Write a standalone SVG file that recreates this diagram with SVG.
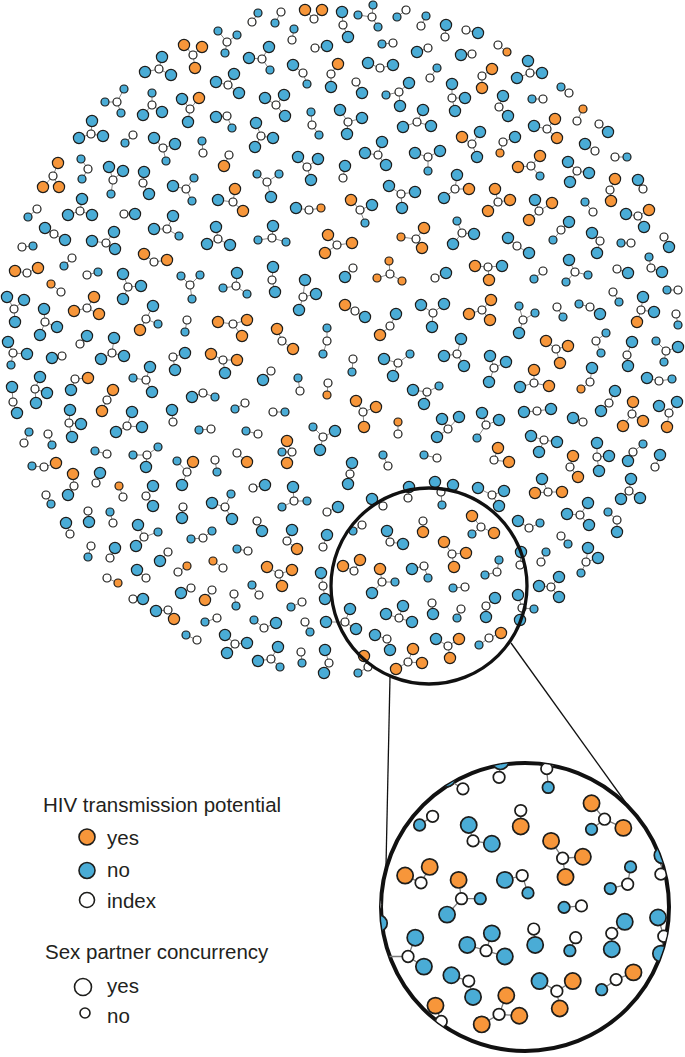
<svg xmlns="http://www.w3.org/2000/svg" xmlns:xlink="http://www.w3.org/1999/xlink" width="685" height="1057" viewBox="0 0 685 1057">
<style>
#nodes circle{stroke:#1d1d1b;stroke-width:1.2}
.w{fill:#fff;r:4px}
.B{fill:#4aacd6;r:5.6px}
.b{fill:#4aacd6;r:4px}
.O{fill:#f7963a;r:5.6px}
.o{fill:#f7963a;r:4px}
.e{stroke:#7a7a7a;stroke-width:0.9;fill:none}
.ring{fill:none;stroke:#111;}
.lt{font-family:"Liberation Sans",Arial,sans-serif;font-size:20.5px;fill:#231f20}
.lg{stroke:#1d1d1b;stroke-width:1.6}
.zl{stroke:#111;stroke-width:1.3}
</style>
<defs>
<clipPath id="bigclip"><circle cx="525" cy="907" r="144.5"/></clipPath>
</defs>
<rect width="685" height="1057" fill="#fff"/>
<g id="cloud">
<g id="connectors" class="e">
<path d="M314 19L305 10M314 19L322 10M252 22L258 13M281 12L275 23M227 42L218 31M227 42L237 35M227 42L225 53M292 40L294 29M315 48L327 46M193 55L184 45M193 55L202 47M193 55L195 68M159 69L162 57M159 69L145 72M159 69L171 75M262 59L269 47M262 59L249 58M262 59L270 70M303 73L293 65M303 73L307 84M331 74L338 64M331 74L331 87M228 85L234 74M228 85L216 82M228 85L239 93M117 102L124 89M117 102L105 102M117 102L121 113M152 105L152 93M152 105L143 115M152 105L162 112M190 109L182 99M190 109L199 98M190 109L188 122M276 105L265 98M276 105L284 95M276 105L285 116M312 125L311 112M312 125L319 135M227 116L216 117M227 116L232 128M261 136L256 123M261 136L255 147M261 136L273 138M91 134L92 121M91 134L79 138M91 134L103 136M133 135L125 143M163 148L154 138M163 148L175 144M163 148L166 161M203 153L202 141M229 155L224 166M307 167L298 157M307 167L318 159M307 167L311 180M53 176L58 163M53 176L43 187M53 176L59 187M88 169L81 159M88 169L82 179M113 180L109 167M113 180L123 171M113 180L111 194M143 183L144 172M143 183L149 194M186 189L173 186M186 189L194 178M186 189L192 201M267 182L257 174M267 182L279 174M267 182L271 197M233 202L235 189M233 202L218 200M233 202L243 211M309 210L296 208M309 210L321 208M37 209L28 217M80 211L82 199M80 211L68 215M80 211L92 215M124 214L135 214M167 229L173 216M167 229L154 229M167 229L179 236M218 239L216 227M218 239L207 244M218 239L230 245M272 238L273 226M272 238L258 240M272 238L286 242M54 234L45 228M54 234L65 240M106 243L92 241M106 243L114 232M106 243L115 249M22 247L33 246M337 245L328 235M337 245L352 243M337 245L325 253"/>
<path d="M343 25L342 12M343 25L348 37M372 17L373 5M372 17L358 15M372 17L378 27M406 10L397 17M421 26L426 16M445 37L446 25M466 30L478 33M393 43L382 44M428 48L417 52M472 54L461 55M498 45L507 52M380 68L368 63M380 68L393 65M430 78L437 68M482 76L492 69M482 76L482 88M530 73L528 61M530 73L517 78M530 73L542 73M569 93L561 87M356 82L362 93M399 92L386 95M399 92L409 83M399 92L400 106M452 98L452 84M452 98L465 98M452 98L455 111M499 107L503 96M499 107L508 116M543 99L532 99M577 121L583 109M348 122L340 110M348 122L362 118M348 122L347 134M417 122L423 110M417 122L403 127M417 122L431 126M547 129L555 119M547 129L534 126M547 129L557 138M599 124L608 132M472 144L462 137M472 144L480 132M472 144L477 157M503 142L515 137M503 142L500 153M378 155L382 142M378 155L365 153M378 155L386 165M428 157L415 153M428 157L440 151M428 157L428 171M595 151L585 144M615 157L627 157M531 166L540 156M531 166L518 167M531 166L540 176M577 171L568 162M577 171L589 173M577 171L570 182M343 178L345 166M455 189L457 175M455 189L469 189M455 189L444 198M610 190L615 179M610 190L611 201M643 189L638 180M401 194L389 186M401 194L415 192M401 194L402 208M498 202L495 189M498 202L510 200M498 202L488 211M539 211L535 200M539 211L552 203M539 211L529 220M360 210L351 200M360 210L372 205M360 210L365 223M593 212L585 202M638 216L626 214M638 216L649 210M638 216L644 227M462 233L457 221M462 233L474 234M462 233L453 244M416 239L401 237M416 239L424 228M416 239L422 248M517 246L508 238M517 246L529 253M561 230L569 222M561 230L553 240M600 241L592 233M600 241L597 253M631 243L621 243M664 237L669 247"/>
<path d="M27 273L15 271M27 273L38 268M72 258L64 266M87 275L98 272M154 262L144 254M154 262L167 260M128 287L123 274M128 287L141 286M128 287L123 299M190 285L181 276M190 285L200 275M190 285L192 299M61 292L51 284M236 286L237 273M236 286L223 288M236 286L247 294M14 309L7 297M14 309L24 300M14 309L15 322M87 308L94 297M87 308L74 311M87 308L99 314M45 322L44 309M45 322L57 327M45 322L40 335M146 319L153 306M146 319L140 330M146 319L158 324M187 320L185 332M233 324L218 322M233 324L247 320M233 324L242 336M13 353L8 342M13 353L27 354M13 353L11 365M80 344L87 336M112 353L114 338M112 353L101 359M112 353L124 356M62 356L52 358M173 357L185 353M173 357L175 370M223 360L211 354M223 360L237 360M223 360L225 373M35 389L40 377M35 389L47 393M35 389L36 403M75 379L88 378M75 379L71 390M146 380L150 367M146 380L133 378M146 380L152 392M13 402L12 387M13 402L17 413M107 400L113 390M107 400L102 411M203 393L192 397M203 393L215 397M69 423L70 410M69 423L81 424M69 423L72 437M127 426L132 412M127 426L142 427M127 426L116 432M173 422L172 410M245 403L235 409M24 443L29 432M48 434L52 445M211 429L199 430M107 454L95 451M147 455L133 455M147 455L158 447M147 455L146 467M237 453L247 462M44 467L32 466M44 467L56 463"/>
<path d="M272 280L273 267M272 280L275 292M303 297L305 280M303 297L316 294M303 297L299 310M353 268L345 277M390 274L389 261M390 274L377 278M390 274L402 281M435 278L446 273M355 311L345 305M355 311L365 317M433 313L421 305M433 313L444 304M433 313L432 327M390 326L396 314M390 326L380 335M282 341L277 329M282 341L293 349M327 341L327 328M327 341L323 354M398 363L384 359M398 363L410 354M398 363L393 376M353 359L352 372M271 371L263 380M300 391L298 378M328 383L327 395M427 392L413 390M427 392L439 386M427 392L424 404M363 412L356 401M363 412L376 407M363 412L364 427M273 412L285 412M398 434L398 422M448 429L442 419M448 429L459 417M448 429L437 437M258 434L246 431M323 437L313 427M323 437L335 431M323 437L320 450M292 452L287 441M292 452L282 452M292 452L287 463M388 466L383 455M437 458L424 455M350 474L352 463M350 474L348 484"/>
<path d="M488 267L475 266M488 267L502 266M488 267L489 280M543 271L534 279M575 272L569 260M575 272L588 275M575 272L566 282M617 269L628 273M651 268L649 257M651 268L662 272M482 310L491 300M482 310L469 314M482 310L490 320M523 320L519 306M523 320L535 313M523 320L519 333M557 307L563 317M590 307L579 304M590 307L600 314M613 292L619 302M641 310L643 297M641 310L654 312M641 310L637 322M678 290L667 290M676 314L678 325M457 354L444 356M457 354L461 339M457 354L464 366M556 349L546 341M556 349L568 346M556 349L560 363M596 341L606 333M596 341L601 353M627 355L632 342M627 355L628 366M666 351L656 341M666 351L678 347M666 351L664 362M494 368L490 356M494 368L506 362M494 368L489 382M534 383L534 370M534 383L520 387M534 383L549 386M590 382L592 368M590 382L581 389M659 381L647 378M659 381L672 379M609 403L615 391M609 403L601 411M632 414L633 402M632 414L623 426M632 414L643 421M669 413L659 406M669 413L677 402M669 413L667 427M486 425L482 413M486 425L499 420M486 425L477 438M537 411L524 412M537 411L551 409M583 422L573 418M544 440L531 436M544 440L557 442M544 440L539 452M494 460L498 448M494 460L509 462M597 457L597 443M597 457L609 456M597 457L599 471M633 452L628 461M633 452L643 444M655 467L660 455M570 467L573 456M570 467L578 477"/>
<path d="M74 486L73 474M74 486L68 495M46 495L51 504M96 483L100 473M123 497L119 486M146 496L153 486M146 496L153 506M187 472L177 461M187 472L193 462M187 472L182 485M215 460L217 472M183 507L182 518M225 507L212 503M225 507L231 494M225 507L232 519M70 534L66 523M88 511L89 522M113 523L110 512M144 537L138 525M144 537L136 546M144 537L158 532M203 538L191 539M203 538L212 531M91 546L88 557M110 558L115 548M168 552L160 561M178 572L187 566M223 568L213 561M146 578L137 570M107 578L118 583M191 588L181 593M212 590L205 600M133 599L143 599M168 610L156 611M168 610L174 619M217 618L205 622M197 640L186 635M235 644L225 635M235 644L247 643M235 644L227 653"/>
<path d="M253 488L265 485M294 501L293 487M294 501L307 501M294 501L282 507M257 521L262 531M287 541L292 530M287 541L297 549M327 512L338 507M248 551L237 549M279 574L267 567M279 574L292 570M279 574L282 586M259 595L252 585M234 594L236 606M302 602L291 607M264 628L254 620M264 628L276 623M305 622L310 632M271 659L278 647M271 659L258 661M271 659L280 667M301 652L302 663M329 663L325 650M329 663L324 673M323 586L321 573M323 586L325 599"/>
<path d="M441 492L435 482M441 492L453 485M441 492L442 505M408 498L409 487M383 506L372 499M492 495L478 488M492 495L504 491M492 495L499 506M362 525L353 531M390 542L387 531M390 542L403 544M423 521L423 532M481 527L472 516M481 527L472 534M481 527L494 533M452 554L444 542M452 554L466 553M452 554L454 567M354 571L343 566M354 571L360 560M382 582L380 569M382 582L395 582M382 582L372 593M424 566L412 569M424 566L428 578M497 572L499 560M497 572L485 575M520 565L521 552M465 587L453 588M486 606L495 598M486 606L486 617M522 608L518 595M522 608L534 609M522 608L520 620M345 622L350 609M345 622L356 629M345 622L326 622M399 618L403 606M399 618L386 614M399 618L412 622M432 603L433 614M461 609L457 618M387 639L375 635M387 639L390 650M448 646L436 639M448 646L459 639M448 646L450 658M489 638L479 645M489 638L501 633M368 667L364 656M368 667L358 673M408 662L413 649M408 662L396 669M408 662L422 663M323 547L327 535M529 528L518 521M529 528L540 523"/>
<path d="M548 492L535 493M548 492L562 492M548 492L542 479M629 491L631 479M629 491L621 499M629 491L640 498M580 515L588 503M580 515L567 514M580 515L589 525M617 520L608 512M617 520L617 532M561 536L568 544M541 562L546 552M586 562L588 548M586 562L598 558M586 562L581 573M551 587L559 577M551 587L539 586M551 587L559 597"/>
</g>
<g id="nodes">
<g id="a1"><circle class="O" cx="305" cy="10"/><circle class="O" cx="322" cy="10"/><circle class="w" cx="314" cy="19"/></g>
<g id="a3"><circle class="b" cx="258" cy="13"/><circle class="w" cx="252" cy="22"/></g>
<g id="a4"><circle class="b" cx="275" cy="23"/><circle class="w" cx="281" cy="12"/></g>
<g id="a5"><circle class="b" cx="218" cy="31"/><circle class="b" cx="237" cy="35"/><circle class="b" cx="225" cy="53"/><circle class="w" cx="227" cy="42"/></g>
<g id="a6"><circle class="b" cx="294" cy="29"/><circle class="w" cx="292" cy="40"/></g>
<g id="a7"><circle class="B" cx="327" cy="46"/><circle class="w" cx="315" cy="48"/></g>
<g id="a8"><circle class="O" cx="184" cy="45"/><circle class="O" cx="202" cy="47"/><circle class="O" cx="195" cy="68"/><circle class="w" cx="193" cy="55"/></g>
<g id="a9"><circle class="B" cx="162" cy="57"/><circle class="B" cx="145" cy="72"/><circle class="B" cx="171" cy="75"/><circle class="w" cx="159" cy="69"/></g>
<g id="a10"><circle class="B" cx="269" cy="47"/><circle class="B" cx="249" cy="58"/><circle class="b" cx="270" cy="70"/><circle class="w" cx="262" cy="59"/></g>
<g id="a11"><circle class="B" cx="293" cy="65"/><circle class="b" cx="307" cy="84"/><circle class="w" cx="303" cy="73"/></g>
<g id="a12"><circle class="O" cx="338" cy="64"/><circle class="B" cx="331" cy="87"/><circle class="w" cx="331" cy="74"/></g>
<g id="a13"><circle class="B" cx="234" cy="74"/><circle class="B" cx="216" cy="82"/><circle class="B" cx="239" cy="93"/><circle class="w" cx="228" cy="85"/></g>
<g id="a14"><circle class="b" cx="124" cy="89"/><circle class="b" cx="105" cy="102"/><circle class="b" cx="121" cy="113"/><circle class="w" cx="117" cy="102"/></g>
<g id="a15"><circle class="b" cx="152" cy="93"/><circle class="B" cx="143" cy="115"/><circle class="B" cx="162" cy="112"/><circle class="w" cx="152" cy="105"/></g>
<g id="a16"><circle class="B" cx="182" cy="99"/><circle class="O" cx="199" cy="98"/><circle class="B" cx="188" cy="122"/><circle class="w" cx="190" cy="109"/></g>
<g id="a17"><circle class="B" cx="265" cy="98"/><circle class="B" cx="284" cy="95"/><circle class="B" cx="285" cy="116"/><circle class="w" cx="276" cy="105"/></g>
<g id="a18"><circle class="b" cx="311" cy="112"/><circle class="b" cx="319" cy="135"/><circle class="w" cx="312" cy="125"/></g>
<g id="a20"><circle class="B" cx="216" cy="117"/><circle class="b" cx="232" cy="128"/><circle class="w" cx="227" cy="116"/></g>
<g id="a21"><circle class="B" cx="256" cy="123"/><circle class="B" cx="255" cy="147"/><circle class="B" cx="273" cy="138"/><circle class="w" cx="261" cy="136"/></g>
<g id="a22"><circle class="B" cx="92" cy="121"/><circle class="B" cx="79" cy="138"/><circle class="B" cx="103" cy="136"/><circle class="w" cx="91" cy="134"/></g>
<g id="a23"><circle class="b" cx="125" cy="143"/><circle class="w" cx="133" cy="135"/></g>
<g id="a24"><circle class="B" cx="154" cy="138"/><circle class="B" cx="175" cy="144"/><circle class="b" cx="166" cy="161"/><circle class="w" cx="163" cy="148"/></g>
<g id="a25"><circle class="b" cx="202" cy="141"/><circle class="w" cx="203" cy="153"/></g>
<g id="a26"><circle class="O" cx="224" cy="166"/><circle class="w" cx="229" cy="155"/></g>
<g id="a27"><circle class="B" cx="298" cy="157"/><circle class="B" cx="318" cy="159"/><circle class="B" cx="311" cy="180"/><circle class="w" cx="307" cy="167"/></g>
<g id="a29"><circle class="O" cx="58" cy="163"/><circle class="O" cx="43" cy="187"/><circle class="O" cx="59" cy="187"/><circle class="w" cx="53" cy="176"/></g>
<g id="a30"><circle class="b" cx="81" cy="159"/><circle class="b" cx="82" cy="179"/><circle class="w" cx="88" cy="169"/></g>
<g id="a31"><circle class="B" cx="109" cy="167"/><circle class="B" cx="123" cy="171"/><circle class="b" cx="111" cy="194"/><circle class="w" cx="113" cy="180"/></g>
<g id="a32"><circle class="B" cx="144" cy="172"/><circle class="B" cx="149" cy="194"/><circle class="w" cx="143" cy="183"/></g>
<g id="a33"><circle class="B" cx="173" cy="186"/><circle class="b" cx="194" cy="178"/><circle class="b" cx="192" cy="201"/><circle class="w" cx="186" cy="189"/></g>
<g id="a34"><circle class="b" cx="257" cy="174"/><circle class="b" cx="279" cy="174"/><circle class="B" cx="271" cy="197"/><circle class="w" cx="267" cy="182"/></g>
<g id="a35"><circle class="O" cx="235" cy="189"/><circle class="B" cx="218" cy="200"/><circle class="O" cx="243" cy="211"/><circle class="w" cx="233" cy="202"/></g>
<g id="a36"><circle class="B" cx="296" cy="208"/><circle class="o" cx="321" cy="208"/><circle class="w" cx="309" cy="210"/></g>
<g id="a38"><circle class="b" cx="28" cy="217"/><circle class="w" cx="37" cy="209"/></g>
<g id="a39"><circle class="B" cx="82" cy="199"/><circle class="B" cx="68" cy="215"/><circle class="B" cx="92" cy="215"/><circle class="w" cx="80" cy="211"/></g>
<g id="a40"><circle class="B" cx="135" cy="214"/><circle class="w" cx="124" cy="214"/></g>
<g id="a41"><circle class="B" cx="173" cy="216"/><circle class="B" cx="154" cy="229"/><circle class="b" cx="179" cy="236"/><circle class="w" cx="167" cy="229"/></g>
<g id="a42"><circle class="B" cx="216" cy="227"/><circle class="B" cx="207" cy="244"/><circle class="B" cx="230" cy="245"/><circle class="w" cx="218" cy="239"/></g>
<g id="a43"><circle class="B" cx="273" cy="226"/><circle class="b" cx="258" cy="240"/><circle class="b" cx="286" cy="242"/><circle class="w" cx="272" cy="238"/></g>
<g id="a44"><circle class="B" cx="45" cy="228"/><circle class="B" cx="65" cy="240"/><circle class="w" cx="54" cy="234"/></g>
<g id="a45"><circle class="B" cx="92" cy="241"/><circle class="B" cx="114" cy="232"/><circle class="B" cx="115" cy="249"/><circle class="w" cx="106" cy="243"/></g>
<g id="a46"><circle class="b" cx="33" cy="246"/><circle class="w" cx="22" cy="247"/></g>
<g id="a47"><circle class="O" cx="328" cy="235"/><circle class="O" cx="352" cy="243"/><circle class="O" cx="325" cy="253"/><circle class="w" cx="337" cy="245"/></g>
<g id="b1"><circle class="B" cx="342" cy="12"/><circle class="B" cx="348" cy="37"/><circle class="w" cx="343" cy="25"/></g>
<g id="b2"><circle class="b" cx="373" cy="5"/><circle class="b" cx="358" cy="15"/><circle class="b" cx="378" cy="27"/><circle class="w" cx="372" cy="17"/></g>
<g id="b3"><circle class="b" cx="397" cy="17"/><circle class="w" cx="406" cy="10"/></g>
<g id="b4"><circle class="b" cx="426" cy="16"/><circle class="w" cx="421" cy="26"/></g>
<g id="b5"><circle class="B" cx="446" cy="25"/><circle class="w" cx="445" cy="37"/></g>
<g id="b6"><circle class="B" cx="478" cy="33"/><circle class="w" cx="466" cy="30"/></g>
<g id="b7"><circle class="b" cx="382" cy="44"/><circle class="w" cx="393" cy="43"/></g>
<g id="b8"><circle class="B" cx="417" cy="52"/><circle class="w" cx="428" cy="48"/></g>
<g id="b9"><circle class="B" cx="461" cy="55"/><circle class="w" cx="472" cy="54"/></g>
<g id="b10"><circle class="o" cx="507" cy="52"/><circle class="w" cx="498" cy="45"/></g>
<g id="b12"><circle class="B" cx="368" cy="63"/><circle class="B" cx="393" cy="65"/><circle class="w" cx="380" cy="68"/></g>
<g id="b13"><circle class="b" cx="437" cy="68"/><circle class="w" cx="430" cy="78"/></g>
<g id="b14"><circle class="O" cx="492" cy="69"/><circle class="O" cx="482" cy="88"/><circle class="w" cx="482" cy="76"/></g>
<g id="b15"><circle class="B" cx="528" cy="61"/><circle class="B" cx="517" cy="78"/><circle class="B" cx="542" cy="73"/><circle class="w" cx="530" cy="73"/></g>
<g id="b16"><circle class="b" cx="561" cy="87"/><circle class="w" cx="569" cy="93"/></g>
<g id="b17"><circle class="B" cx="362" cy="93"/><circle class="w" cx="356" cy="82"/></g>
<g id="b18"><circle class="b" cx="386" cy="95"/><circle class="B" cx="409" cy="83"/><circle class="B" cx="400" cy="106"/><circle class="w" cx="399" cy="92"/></g>
<g id="b19"><circle class="B" cx="452" cy="84"/><circle class="B" cx="465" cy="98"/><circle class="B" cx="455" cy="111"/><circle class="w" cx="452" cy="98"/></g>
<g id="b20"><circle class="B" cx="503" cy="96"/><circle class="B" cx="508" cy="116"/><circle class="w" cx="499" cy="107"/></g>
<g id="b21"><circle class="b" cx="532" cy="99"/><circle class="w" cx="543" cy="99"/></g>
<g id="b22"><circle class="o" cx="583" cy="109"/><circle class="w" cx="577" cy="121"/></g>
<g id="b23"><circle class="B" cx="340" cy="110"/><circle class="B" cx="362" cy="118"/><circle class="B" cx="347" cy="134"/><circle class="w" cx="348" cy="122"/></g>
<g id="b24"><circle class="B" cx="423" cy="110"/><circle class="B" cx="403" cy="127"/><circle class="B" cx="431" cy="126"/><circle class="w" cx="417" cy="122"/></g>
<g id="b25"><circle class="O" cx="555" cy="119"/><circle class="B" cx="534" cy="126"/><circle class="O" cx="557" cy="138"/><circle class="w" cx="547" cy="129"/></g>
<g id="b26"><circle class="B" cx="608" cy="132"/><circle class="w" cx="599" cy="124"/></g>
<g id="b27"><circle class="O" cx="462" cy="137"/><circle class="B" cx="480" cy="132"/><circle class="B" cx="477" cy="157"/><circle class="w" cx="472" cy="144"/></g>
<g id="b28"><circle class="B" cx="515" cy="137"/><circle class="o" cx="500" cy="153"/><circle class="w" cx="503" cy="142"/></g>
<g id="b29"><circle class="B" cx="382" cy="142"/><circle class="B" cx="365" cy="153"/><circle class="B" cx="386" cy="165"/><circle class="w" cx="378" cy="155"/></g>
<g id="b30"><circle class="B" cx="415" cy="153"/><circle class="B" cx="440" cy="151"/><circle class="b" cx="428" cy="171"/><circle class="w" cx="428" cy="157"/></g>
<g id="b31"><circle class="B" cx="585" cy="144"/><circle class="w" cx="595" cy="151"/></g>
<g id="b32"><circle class="b" cx="627" cy="157"/><circle class="w" cx="615" cy="157"/></g>
<g id="b33"><circle class="O" cx="540" cy="156"/><circle class="O" cx="518" cy="167"/><circle class="b" cx="540" cy="176"/><circle class="w" cx="531" cy="166"/></g>
<g id="b34"><circle class="B" cx="568" cy="162"/><circle class="B" cx="589" cy="173"/><circle class="B" cx="570" cy="182"/><circle class="w" cx="577" cy="171"/></g>
<g id="b35"><circle class="B" cx="345" cy="166"/><circle class="w" cx="343" cy="178"/></g>
<g id="b36"><circle class="B" cx="457" cy="175"/><circle class="O" cx="469" cy="189"/><circle class="B" cx="444" cy="198"/><circle class="w" cx="455" cy="189"/></g>
<g id="b37"><circle class="O" cx="615" cy="179"/><circle class="O" cx="611" cy="201"/><circle class="w" cx="610" cy="190"/></g>
<g id="b38"><circle class="B" cx="638" cy="180"/><circle class="w" cx="643" cy="189"/></g>
<g id="b39"><circle class="B" cx="389" cy="186"/><circle class="B" cx="415" cy="192"/><circle class="B" cx="402" cy="208"/><circle class="w" cx="401" cy="194"/></g>
<g id="b40"><circle class="O" cx="495" cy="189"/><circle class="O" cx="510" cy="200"/><circle class="O" cx="488" cy="211"/><circle class="w" cx="498" cy="202"/></g>
<g id="b41"><circle class="B" cx="535" cy="200"/><circle class="O" cx="552" cy="203"/><circle class="O" cx="529" cy="220"/><circle class="w" cx="539" cy="211"/></g>
<g id="b42"><circle class="O" cx="351" cy="200"/><circle class="B" cx="372" cy="205"/><circle class="b" cx="365" cy="223"/><circle class="w" cx="360" cy="210"/></g>
<g id="b43"><circle class="b" cx="585" cy="202"/><circle class="w" cx="593" cy="212"/></g>
<g id="b44"><circle class="B" cx="626" cy="214"/><circle class="O" cx="649" cy="210"/><circle class="B" cx="644" cy="227"/><circle class="w" cx="638" cy="216"/></g>
<g id="b45"><circle class="b" cx="457" cy="221"/><circle class="B" cx="474" cy="234"/><circle class="B" cx="453" cy="244"/><circle class="w" cx="462" cy="233"/></g>
<g id="b46"><circle class="o" cx="401" cy="237"/><circle class="O" cx="424" cy="228"/><circle class="O" cx="422" cy="248"/><circle class="w" cx="416" cy="239"/></g>
<g id="b47"><circle class="B" cx="508" cy="238"/><circle class="B" cx="529" cy="253"/><circle class="w" cx="517" cy="246"/></g>
<g id="b48"><circle class="B" cx="569" cy="222"/><circle class="b" cx="553" cy="240"/><circle class="w" cx="561" cy="230"/></g>
<g id="b49"><circle class="B" cx="592" cy="233"/><circle class="B" cx="597" cy="253"/><circle class="w" cx="600" cy="241"/></g>
<g id="b50"><circle class="b" cx="621" cy="243"/><circle class="w" cx="631" cy="243"/></g>
<g id="b51"><circle class="B" cx="669" cy="247"/><circle class="w" cx="664" cy="237"/></g>
<g id="c1"><circle class="O" cx="15" cy="271"/><circle class="O" cx="38" cy="268"/><circle class="w" cx="27" cy="273"/></g>
<g id="c2"><circle class="b" cx="64" cy="266"/><circle class="w" cx="72" cy="258"/></g>
<g id="c3"><circle class="b" cx="98" cy="272"/><circle class="w" cx="87" cy="275"/></g>
<g id="c4"><circle class="O" cx="144" cy="254"/><circle class="O" cx="167" cy="260"/><circle class="w" cx="154" cy="262"/></g>
<g id="c5"><circle class="B" cx="123" cy="274"/><circle class="B" cx="141" cy="286"/><circle class="B" cx="123" cy="299"/><circle class="w" cx="128" cy="287"/></g>
<g id="c6"><circle class="b" cx="181" cy="276"/><circle class="b" cx="200" cy="275"/><circle class="b" cx="192" cy="299"/><circle class="w" cx="190" cy="285"/></g>
<g id="c8"><circle class="o" cx="51" cy="284"/><circle class="w" cx="61" cy="292"/></g>
<g id="c9"><circle class="B" cx="237" cy="273"/><circle class="b" cx="223" cy="288"/><circle class="b" cx="247" cy="294"/><circle class="w" cx="236" cy="286"/></g>
<g id="c10"><circle class="B" cx="7" cy="297"/><circle class="B" cx="24" cy="300"/><circle class="B" cx="15" cy="322"/><circle class="w" cx="14" cy="309"/></g>
<g id="c11"><circle class="O" cx="94" cy="297"/><circle class="O" cx="74" cy="311"/><circle class="O" cx="99" cy="314"/><circle class="w" cx="87" cy="308"/></g>
<g id="c12"><circle class="B" cx="44" cy="309"/><circle class="B" cx="57" cy="327"/><circle class="B" cx="40" cy="335"/><circle class="w" cx="45" cy="322"/></g>
<g id="c13"><circle class="B" cx="153" cy="306"/><circle class="O" cx="140" cy="330"/><circle class="b" cx="158" cy="324"/><circle class="w" cx="146" cy="319"/></g>
<g id="c14"><circle class="b" cx="185" cy="332"/><circle class="w" cx="187" cy="320"/></g>
<g id="c15"><circle class="O" cx="218" cy="322"/><circle class="O" cx="247" cy="320"/><circle class="O" cx="242" cy="336"/><circle class="w" cx="233" cy="324"/></g>
<g id="c16"><circle class="B" cx="8" cy="342"/><circle class="B" cx="27" cy="354"/><circle class="b" cx="11" cy="365"/><circle class="w" cx="13" cy="353"/></g>
<g id="c17"><circle class="B" cx="87" cy="336"/><circle class="w" cx="80" cy="344"/></g>
<g id="c18"><circle class="B" cx="114" cy="338"/><circle class="B" cx="101" cy="359"/><circle class="B" cx="124" cy="356"/><circle class="w" cx="112" cy="353"/></g>
<g id="c19"><circle class="B" cx="52" cy="358"/><circle class="w" cx="62" cy="356"/></g>
<g id="c20"><circle class="B" cx="185" cy="353"/><circle class="B" cx="175" cy="370"/><circle class="w" cx="173" cy="357"/></g>
<g id="c21"><circle class="O" cx="211" cy="354"/><circle class="O" cx="237" cy="360"/><circle class="B" cx="225" cy="373"/><circle class="w" cx="223" cy="360"/></g>
<g id="c22"><circle class="B" cx="40" cy="377"/><circle class="B" cx="47" cy="393"/><circle class="B" cx="36" cy="403"/><circle class="w" cx="35" cy="389"/></g>
<g id="c23"><circle class="O" cx="88" cy="378"/><circle class="B" cx="71" cy="390"/><circle class="w" cx="75" cy="379"/></g>
<g id="c24"><circle class="B" cx="150" cy="367"/><circle class="b" cx="133" cy="378"/><circle class="B" cx="152" cy="392"/><circle class="w" cx="146" cy="380"/></g>
<g id="c25"><circle class="B" cx="12" cy="387"/><circle class="B" cx="17" cy="413"/><circle class="w" cx="13" cy="402"/></g>
<g id="c26"><circle class="O" cx="113" cy="390"/><circle class="O" cx="102" cy="411"/><circle class="w" cx="107" cy="400"/></g>
<g id="c27"><circle class="B" cx="192" cy="397"/><circle class="b" cx="215" cy="397"/><circle class="w" cx="203" cy="393"/></g>
<g id="c28"><circle class="B" cx="70" cy="410"/><circle class="B" cx="81" cy="424"/><circle class="B" cx="72" cy="437"/><circle class="w" cx="69" cy="423"/></g>
<g id="c29"><circle class="B" cx="132" cy="412"/><circle class="B" cx="142" cy="427"/><circle class="B" cx="116" cy="432"/><circle class="w" cx="127" cy="426"/></g>
<g id="c30"><circle class="B" cx="172" cy="410"/><circle class="w" cx="173" cy="422"/></g>
<g id="c31"><circle class="b" cx="235" cy="409"/><circle class="w" cx="245" cy="403"/></g>
<g id="c32"><circle class="b" cx="29" cy="432"/><circle class="w" cx="24" cy="443"/></g>
<g id="c33"><circle class="b" cx="52" cy="445"/><circle class="w" cx="48" cy="434"/></g>
<g id="c34"><circle class="b" cx="199" cy="430"/><circle class="w" cx="211" cy="429"/></g>
<g id="c35"><circle class="b" cx="95" cy="451"/><circle class="w" cx="107" cy="454"/></g>
<g id="c36"><circle class="b" cx="133" cy="455"/><circle class="b" cx="158" cy="447"/><circle class="B" cx="146" cy="467"/><circle class="w" cx="147" cy="455"/></g>
<g id="c37"><circle class="O" cx="247" cy="462"/><circle class="w" cx="237" cy="453"/></g>
<g id="c38"><circle class="b" cx="32" cy="466"/><circle class="O" cx="56" cy="463"/><circle class="w" cx="44" cy="467"/></g>
<g id="d2"><circle class="B" cx="273" cy="267"/><circle class="B" cx="275" cy="292"/><circle class="w" cx="272" cy="280"/></g>
<g id="d3"><circle class="B" cx="305" cy="280"/><circle class="B" cx="316" cy="294"/><circle class="B" cx="299" cy="310"/><circle class="w" cx="303" cy="297"/></g>
<g id="d4"><circle class="B" cx="345" cy="277"/><circle class="w" cx="353" cy="268"/></g>
<g id="d5"><circle class="o" cx="389" cy="261"/><circle class="o" cx="377" cy="278"/><circle class="o" cx="402" cy="281"/><circle class="w" cx="390" cy="274"/></g>
<g id="d6"><circle class="B" cx="446" cy="273"/><circle class="w" cx="435" cy="278"/></g>
<g id="d7"><circle class="O" cx="345" cy="305"/><circle class="B" cx="365" cy="317"/><circle class="w" cx="355" cy="311"/></g>
<g id="d8"><circle class="B" cx="421" cy="305"/><circle class="B" cx="444" cy="304"/><circle class="B" cx="432" cy="327"/><circle class="w" cx="433" cy="313"/></g>
<g id="d9"><circle class="B" cx="396" cy="314"/><circle class="O" cx="380" cy="335"/><circle class="w" cx="390" cy="326"/></g>
<g id="d10"><circle class="O" cx="277" cy="329"/><circle class="O" cx="293" cy="349"/><circle class="w" cx="282" cy="341"/></g>
<g id="d11"><circle class="b" cx="327" cy="328"/><circle class="b" cx="323" cy="354"/><circle class="w" cx="327" cy="341"/></g>
<g id="d12"><circle class="B" cx="384" cy="359"/><circle class="b" cx="410" cy="354"/><circle class="B" cx="393" cy="376"/><circle class="w" cx="398" cy="363"/></g>
<g id="d14"><circle class="b" cx="352" cy="372"/><circle class="w" cx="353" cy="359"/></g>
<g id="d15"><circle class="B" cx="263" cy="380"/><circle class="w" cx="271" cy="371"/></g>
<g id="d16"><circle class="b" cx="298" cy="378"/><circle class="w" cx="300" cy="391"/></g>
<g id="d17"><circle class="o" cx="327" cy="395"/><circle class="w" cx="328" cy="383"/></g>
<g id="d18"><circle class="B" cx="413" cy="390"/><circle class="b" cx="439" cy="386"/><circle class="B" cx="424" cy="404"/><circle class="w" cx="427" cy="392"/></g>
<g id="d19"><circle class="O" cx="356" cy="401"/><circle class="O" cx="376" cy="407"/><circle class="O" cx="364" cy="427"/><circle class="w" cx="363" cy="412"/></g>
<g id="d21"><circle class="b" cx="285" cy="412"/><circle class="w" cx="273" cy="412"/></g>
<g id="d22"><circle class="o" cx="398" cy="422"/><circle class="w" cx="398" cy="434"/></g>
<g id="d23"><circle class="B" cx="442" cy="419"/><circle class="B" cx="459" cy="417"/><circle class="B" cx="437" cy="437"/><circle class="w" cx="448" cy="429"/></g>
<g id="d24"><circle class="b" cx="246" cy="431"/><circle class="w" cx="258" cy="434"/></g>
<g id="d25"><circle class="b" cx="313" cy="427"/><circle class="B" cx="335" cy="431"/><circle class="B" cx="320" cy="450"/><circle class="w" cx="323" cy="437"/></g>
<g id="d26"><circle class="O" cx="287" cy="441"/><circle class="b" cx="282" cy="452"/><circle class="O" cx="287" cy="463"/><circle class="w" cx="292" cy="452"/></g>
<g id="d28"><circle class="b" cx="383" cy="455"/><circle class="w" cx="388" cy="466"/></g>
<g id="d29"><circle class="b" cx="424" cy="455"/><circle class="w" cx="437" cy="458"/></g>
<g id="d30"><circle class="B" cx="352" cy="463"/><circle class="B" cx="348" cy="484"/><circle class="w" cx="350" cy="474"/></g>
<g id="e1"><circle class="O" cx="475" cy="266"/><circle class="B" cx="502" cy="266"/><circle class="O" cx="489" cy="280"/><circle class="w" cx="488" cy="267"/></g>
<g id="e2"><circle class="b" cx="534" cy="279"/><circle class="w" cx="543" cy="271"/></g>
<g id="e3"><circle class="B" cx="569" cy="260"/><circle class="b" cx="588" cy="275"/><circle class="b" cx="566" cy="282"/><circle class="w" cx="575" cy="272"/></g>
<g id="e4"><circle class="B" cx="628" cy="273"/><circle class="w" cx="617" cy="269"/></g>
<g id="e5"><circle class="b" cx="649" cy="257"/><circle class="B" cx="662" cy="272"/><circle class="w" cx="651" cy="268"/></g>
<g id="e6"><circle class="O" cx="491" cy="300"/><circle class="O" cx="469" cy="314"/><circle class="O" cx="490" cy="320"/><circle class="w" cx="482" cy="310"/></g>
<g id="e7"><circle class="b" cx="519" cy="306"/><circle class="b" cx="535" cy="313"/><circle class="B" cx="519" cy="333"/><circle class="w" cx="523" cy="320"/></g>
<g id="e8"><circle class="b" cx="563" cy="317"/><circle class="w" cx="557" cy="307"/></g>
<g id="e9"><circle class="b" cx="579" cy="304"/><circle class="B" cx="600" cy="314"/><circle class="w" cx="590" cy="307"/></g>
<g id="e10"><circle class="b" cx="619" cy="302"/><circle class="w" cx="613" cy="292"/></g>
<g id="e11"><circle class="B" cx="643" cy="297"/><circle class="B" cx="654" cy="312"/><circle class="O" cx="637" cy="322"/><circle class="w" cx="641" cy="310"/></g>
<g id="e12"><circle class="b" cx="667" cy="290"/><circle class="w" cx="678" cy="290"/></g>
<g id="e13"><circle class="b" cx="678" cy="325"/><circle class="w" cx="676" cy="314"/></g>
<g id="e14"><circle class="B" cx="444" cy="356"/><circle class="B" cx="461" cy="339"/><circle class="B" cx="464" cy="366"/><circle class="w" cx="457" cy="354"/></g>
<g id="e15"><circle class="O" cx="546" cy="341"/><circle class="O" cx="568" cy="346"/><circle class="O" cx="560" cy="363"/><circle class="w" cx="556" cy="349"/></g>
<g id="e16"><circle class="b" cx="606" cy="333"/><circle class="b" cx="601" cy="353"/><circle class="w" cx="596" cy="341"/></g>
<g id="e17"><circle class="B" cx="632" cy="342"/><circle class="B" cx="628" cy="366"/><circle class="w" cx="627" cy="355"/></g>
<g id="e18"><circle class="b" cx="656" cy="341"/><circle class="B" cx="678" cy="347"/><circle class="b" cx="664" cy="362"/><circle class="w" cx="666" cy="351"/></g>
<g id="e19"><circle class="B" cx="490" cy="356"/><circle class="B" cx="506" cy="362"/><circle class="B" cx="489" cy="382"/><circle class="w" cx="494" cy="368"/></g>
<g id="e20"><circle class="O" cx="534" cy="370"/><circle class="B" cx="520" cy="387"/><circle class="O" cx="549" cy="386"/><circle class="w" cx="534" cy="383"/></g>
<g id="e21"><circle class="B" cx="592" cy="368"/><circle class="o" cx="581" cy="389"/><circle class="w" cx="590" cy="382"/></g>
<g id="e22"><circle class="B" cx="647" cy="378"/><circle class="b" cx="672" cy="379"/><circle class="w" cx="659" cy="381"/></g>
<g id="e23"><circle class="B" cx="615" cy="391"/><circle class="B" cx="601" cy="411"/><circle class="w" cx="609" cy="403"/></g>
<g id="e24"><circle class="O" cx="633" cy="402"/><circle class="O" cx="623" cy="426"/><circle class="O" cx="643" cy="421"/><circle class="w" cx="632" cy="414"/></g>
<g id="e25"><circle class="B" cx="659" cy="406"/><circle class="B" cx="677" cy="402"/><circle class="O" cx="667" cy="427"/><circle class="w" cx="669" cy="413"/></g>
<g id="e27"><circle class="B" cx="482" cy="413"/><circle class="B" cx="499" cy="420"/><circle class="b" cx="477" cy="438"/><circle class="w" cx="486" cy="425"/></g>
<g id="e28"><circle class="B" cx="524" cy="412"/><circle class="B" cx="551" cy="409"/><circle class="w" cx="537" cy="411"/></g>
<g id="e29"><circle class="B" cx="573" cy="418"/><circle class="w" cx="583" cy="422"/></g>
<g id="e30"><circle class="B" cx="531" cy="436"/><circle class="B" cx="557" cy="442"/><circle class="B" cx="539" cy="452"/><circle class="w" cx="544" cy="440"/></g>
<g id="e31"><circle class="O" cx="498" cy="448"/><circle class="O" cx="509" cy="462"/><circle class="w" cx="494" cy="460"/></g>
<g id="e32"><circle class="B" cx="597" cy="443"/><circle class="B" cx="609" cy="456"/><circle class="B" cx="599" cy="471"/><circle class="w" cx="597" cy="457"/></g>
<g id="e33"><circle class="B" cx="628" cy="461"/><circle class="b" cx="643" cy="444"/><circle class="w" cx="633" cy="452"/></g>
<g id="e34"><circle class="B" cx="660" cy="455"/><circle class="w" cx="655" cy="467"/></g>
<g id="e35"><circle class="O" cx="573" cy="456"/><circle class="O" cx="578" cy="477"/><circle class="w" cx="570" cy="467"/></g>
<g id="f1"><circle class="O" cx="73" cy="474"/><circle class="B" cx="68" cy="495"/><circle class="w" cx="74" cy="486"/></g>
<g id="f2"><circle class="b" cx="51" cy="504"/><circle class="w" cx="46" cy="495"/></g>
<g id="f3"><circle class="B" cx="100" cy="473"/><circle class="w" cx="96" cy="483"/></g>
<g id="f4"><circle class="o" cx="119" cy="486"/><circle class="w" cx="123" cy="497"/></g>
<g id="f6"><circle class="B" cx="153" cy="486"/><circle class="B" cx="153" cy="506"/><circle class="w" cx="146" cy="496"/></g>
<g id="f7"><circle class="b" cx="177" cy="461"/><circle class="O" cx="193" cy="462"/><circle class="B" cx="182" cy="485"/><circle class="w" cx="187" cy="472"/></g>
<g id="f8"><circle class="b" cx="217" cy="472"/><circle class="w" cx="215" cy="460"/></g>
<g id="f9"><circle class="B" cx="182" cy="518"/><circle class="w" cx="183" cy="507"/></g>
<g id="f10"><circle class="B" cx="212" cy="503"/><circle class="b" cx="231" cy="494"/><circle class="B" cx="232" cy="519"/><circle class="w" cx="225" cy="507"/></g>
<g id="f11"><circle class="B" cx="66" cy="523"/><circle class="w" cx="70" cy="534"/></g>
<g id="f12"><circle class="B" cx="89" cy="522"/><circle class="w" cx="88" cy="511"/></g>
<g id="f13"><circle class="b" cx="110" cy="512"/><circle class="w" cx="113" cy="523"/></g>
<g id="f14"><circle class="B" cx="138" cy="525"/><circle class="B" cx="136" cy="546"/><circle class="b" cx="158" cy="532"/><circle class="w" cx="144" cy="537"/></g>
<g id="f15"><circle class="b" cx="191" cy="539"/><circle class="b" cx="212" cy="531"/><circle class="w" cx="203" cy="538"/></g>
<g id="f16"><circle class="b" cx="88" cy="557"/><circle class="w" cx="91" cy="546"/></g>
<g id="f17"><circle class="B" cx="115" cy="548"/><circle class="w" cx="110" cy="558"/></g>
<g id="f18"><circle class="B" cx="160" cy="561"/><circle class="w" cx="168" cy="552"/></g>
<g id="f19"><circle class="o" cx="187" cy="566"/><circle class="w" cx="178" cy="572"/></g>
<g id="f20"><circle class="o" cx="213" cy="561"/><circle class="w" cx="223" cy="568"/></g>
<g id="f21"><circle class="B" cx="137" cy="570"/><circle class="w" cx="146" cy="578"/></g>
<g id="f22"><circle class="o" cx="118" cy="583"/><circle class="w" cx="107" cy="578"/></g>
<g id="f23"><circle class="B" cx="181" cy="593"/><circle class="w" cx="191" cy="588"/></g>
<g id="f24"><circle class="O" cx="205" cy="600"/><circle class="w" cx="212" cy="590"/></g>
<g id="f25"><circle class="B" cx="143" cy="599"/><circle class="w" cx="133" cy="599"/></g>
<g id="f26"><circle class="B" cx="156" cy="611"/><circle class="O" cx="174" cy="619"/><circle class="w" cx="168" cy="610"/></g>
<g id="f27"><circle class="b" cx="205" cy="622"/><circle class="w" cx="217" cy="618"/></g>
<g id="f28"><circle class="b" cx="186" cy="635"/><circle class="w" cx="197" cy="640"/></g>
<g id="f29"><circle class="B" cx="225" cy="635"/><circle class="B" cx="247" cy="643"/><circle class="B" cx="227" cy="653"/><circle class="w" cx="235" cy="644"/></g>
<g id="g1"><circle class="B" cx="265" cy="485"/><circle class="w" cx="253" cy="488"/></g>
<g id="g3"><circle class="B" cx="293" cy="487"/><circle class="b" cx="307" cy="501"/><circle class="b" cx="282" cy="507"/><circle class="w" cx="294" cy="501"/></g>
<g id="g4"><circle class="B" cx="262" cy="531"/><circle class="w" cx="257" cy="521"/></g>
<g id="g5"><circle class="B" cx="292" cy="530"/><circle class="O" cx="297" cy="549"/><circle class="w" cx="287" cy="541"/></g>
<g id="g6"><circle class="B" cx="338" cy="507"/><circle class="w" cx="327" cy="512"/></g>
<g id="g7"><circle class="b" cx="237" cy="549"/><circle class="w" cx="248" cy="551"/></g>
<g id="g9"><circle class="O" cx="267" cy="567"/><circle class="O" cx="292" cy="570"/><circle class="O" cx="282" cy="586"/><circle class="w" cx="279" cy="574"/></g>
<g id="g10"><circle class="b" cx="252" cy="585"/><circle class="w" cx="259" cy="595"/></g>
<g id="g11"><circle class="b" cx="236" cy="606"/><circle class="w" cx="234" cy="594"/></g>
<g id="g12"><circle class="b" cx="291" cy="607"/><circle class="w" cx="302" cy="602"/></g>
<g id="g13"><circle class="b" cx="254" cy="620"/><circle class="B" cx="276" cy="623"/><circle class="w" cx="264" cy="628"/></g>
<g id="g14"><circle class="b" cx="310" cy="632"/><circle class="w" cx="305" cy="622"/></g>
<g id="g16"><circle class="B" cx="278" cy="647"/><circle class="B" cx="258" cy="661"/><circle class="b" cx="280" cy="667"/><circle class="w" cx="271" cy="659"/></g>
<g id="g17"><circle class="b" cx="302" cy="663"/><circle class="w" cx="301" cy="652"/></g>
<g id="g18"><circle class="B" cx="325" cy="650"/><circle class="B" cx="324" cy="673"/><circle class="w" cx="329" cy="663"/></g>
<g id="g19"><circle class="B" cx="321" cy="573"/><circle class="B" cx="325" cy="599"/><circle class="w" cx="323" cy="586"/></g>
<g id="z1"><circle class="B" cx="435" cy="482"/><circle class="B" cx="453" cy="485"/><circle class="b" cx="442" cy="505"/><circle class="w" cx="441" cy="492"/></g>
<g id="z2"><circle class="B" cx="409" cy="487"/><circle class="w" cx="408" cy="498"/></g>
<g id="z3"><circle class="B" cx="372" cy="499"/><circle class="w" cx="383" cy="506"/></g>
<g id="z4"><circle class="B" cx="478" cy="488"/><circle class="B" cx="504" cy="491"/><circle class="B" cx="499" cy="506"/><circle class="w" cx="492" cy="495"/></g>
<g id="z5"><circle class="b" cx="353" cy="531"/><circle class="w" cx="362" cy="525"/></g>
<g id="z6"><circle class="B" cx="387" cy="531"/><circle class="B" cx="403" cy="544"/><circle class="w" cx="390" cy="542"/></g>
<g id="z7"><circle class="O" cx="423" cy="532"/><circle class="w" cx="423" cy="521"/></g>
<g id="z8"><circle class="O" cx="472" cy="516"/><circle class="b" cx="472" cy="534"/><circle class="O" cx="494" cy="533"/><circle class="w" cx="481" cy="527"/></g>
<g id="z9"><circle class="O" cx="444" cy="542"/><circle class="O" cx="466" cy="553"/><circle class="O" cx="454" cy="567"/><circle class="w" cx="452" cy="554"/></g>
<g id="z10"><circle class="O" cx="343" cy="566"/><circle class="O" cx="360" cy="560"/><circle class="w" cx="354" cy="571"/></g>
<g id="z11"><circle class="O" cx="380" cy="569"/><circle class="b" cx="395" cy="582"/><circle class="B" cx="372" cy="593"/><circle class="w" cx="382" cy="582"/></g>
<g id="z12"><circle class="B" cx="412" cy="569"/><circle class="b" cx="428" cy="578"/><circle class="w" cx="424" cy="566"/></g>
<g id="z13"><circle class="b" cx="499" cy="560"/><circle class="b" cx="485" cy="575"/><circle class="w" cx="497" cy="572"/></g>
<g id="z14"><circle class="B" cx="521" cy="552"/><circle class="w" cx="520" cy="565"/></g>
<g id="z15"><circle class="b" cx="453" cy="588"/><circle class="w" cx="465" cy="587"/></g>
<g id="z16"><circle class="B" cx="495" cy="598"/><circle class="B" cx="486" cy="617"/><circle class="w" cx="486" cy="606"/></g>
<g id="z17"><circle class="B" cx="518" cy="595"/><circle class="b" cx="534" cy="609"/><circle class="B" cx="520" cy="620"/><circle class="w" cx="522" cy="608"/></g>
<g id="z18"><circle class="B" cx="350" cy="609"/><circle class="B" cx="356" cy="629"/><circle class="B" cx="326" cy="622"/><circle class="w" cx="345" cy="622"/></g>
<g id="z19"><circle class="B" cx="403" cy="606"/><circle class="B" cx="386" cy="614"/><circle class="B" cx="412" cy="622"/><circle class="w" cx="399" cy="618"/></g>
<g id="z20"><circle class="B" cx="433" cy="614"/><circle class="w" cx="432" cy="603"/></g>
<g id="z21"><circle class="b" cx="457" cy="618"/><circle class="w" cx="461" cy="609"/></g>
<g id="z22"><circle class="B" cx="375" cy="635"/><circle class="B" cx="390" cy="650"/><circle class="w" cx="387" cy="639"/></g>
<g id="z23"><circle class="B" cx="436" cy="639"/><circle class="O" cx="459" cy="639"/><circle class="O" cx="450" cy="658"/><circle class="w" cx="448" cy="646"/></g>
<g id="z24"><circle class="b" cx="479" cy="645"/><circle class="O" cx="501" cy="633"/><circle class="w" cx="489" cy="638"/></g>
<g id="z25"><circle class="O" cx="364" cy="656"/><circle class="b" cx="358" cy="673"/><circle class="w" cx="368" cy="667"/></g>
<g id="z26"><circle class="O" cx="413" cy="649"/><circle class="O" cx="396" cy="669"/><circle class="O" cx="422" cy="663"/><circle class="w" cx="408" cy="662"/></g>
<g id="z27"><circle class="B" cx="327" cy="535"/><circle class="w" cx="323" cy="547"/></g>
<g id="z28"><circle class="B" cx="518" cy="521"/><circle class="b" cx="540" cy="523"/><circle class="w" cx="529" cy="528"/></g>
<g id="h1"><circle class="O" cx="535" cy="493"/><circle class="O" cx="562" cy="492"/><circle class="B" cx="542" cy="479"/><circle class="w" cx="548" cy="492"/></g>
<g id="h2"><circle class="B" cx="631" cy="479"/><circle class="B" cx="621" cy="499"/><circle class="B" cx="640" cy="498"/><circle class="w" cx="629" cy="491"/></g>
<g id="h3"><circle class="B" cx="588" cy="503"/><circle class="B" cx="567" cy="514"/><circle class="B" cx="589" cy="525"/><circle class="w" cx="580" cy="515"/></g>
<g id="h4"><circle class="b" cx="608" cy="512"/><circle class="B" cx="617" cy="532"/><circle class="w" cx="617" cy="520"/></g>
<g id="h5"><circle class="b" cx="568" cy="544"/><circle class="w" cx="561" cy="536"/></g>
<g id="h6"><circle class="b" cx="546" cy="552"/><circle class="w" cx="541" cy="562"/></g>
<g id="h7"><circle class="B" cx="588" cy="548"/><circle class="B" cx="598" cy="558"/><circle class="b" cx="581" cy="573"/><circle class="w" cx="586" cy="562"/></g>
<g id="h8"><circle class="B" cx="559" cy="577"/><circle class="B" cx="539" cy="586"/><circle class="B" cx="559" cy="597"/><circle class="w" cx="551" cy="587"/></g>
</g>
</g>
<circle id="lens-small" class="ring" cx="429" cy="586" r="98" stroke-width="3.3"/>
<g id="zoom-lines">
<line class="zl" x1="390" y1="677" x2="386" y2="866"/>
<line class="zl" x1="511" y1="643" x2="626" y2="803"/>
</g>
<circle id="lens-big-bg" cx="525" cy="907" r="144" fill="#fff"/>
<circle id="lens-big" class="ring" cx="525" cy="907" r="144" stroke-width="4"/>
<g id="magnified" clip-path="url(#bigclip)">
<use xlink:href="#cloud" href="#cloud" transform="matrix(1.445 0 0 1.445 -90.5 57.7)"/>
</g>
<g id="legend">
<text class="lt" x="43" y="812">HIV transmission potential</text>
<circle class="lg" cx="87" cy="837" r="8" fill="#f7963a"/>
<text class="lt" x="107" y="845">yes</text>
<circle class="lg" cx="87" cy="870.5" r="8" fill="#4aacd6"/>
<text class="lt" x="107" y="877">no</text>
<circle class="lg" cx="87" cy="900" r="7.5" fill="#fff"/>
<text class="lt" x="107" y="908">index</text>
<text class="lt" x="45" y="959">Sex partner concurrency</text>
<circle class="lg" cx="83" cy="987" r="8.5" fill="#fff"/>
<text class="lt" x="107" y="993">yes</text>
<circle class="lg" cx="85" cy="1013" r="5" fill="#fff"/>
<text class="lt" x="107" y="1023">no</text>
</g>
</svg>
